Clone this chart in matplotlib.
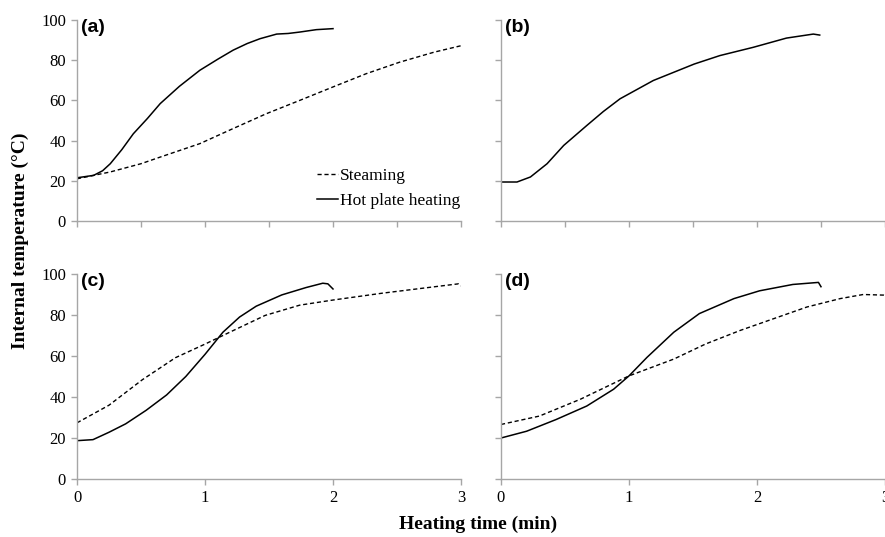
import matplotlib.pyplot as plt

# panel (a)
a_hot_t = [0, 0.13, 0.2, 0.26, 0.35, 0.44, 0.55, 0.65, 0.8, 0.96, 1.1, 1.22, 1.33, 1.43, 1.56, 1.65, 1.74, 1.87, 2.0]
a_hot_T = [21.5, 22.7, 25, 28.5, 35.5, 43.4, 51, 58.4, 67, 75, 80.5, 85, 88.3, 90.7, 93.0, 93.3, 94, 95.2, 95.7]
a_steam_t = [0, 0.26, 0.5, 0.65, 0.96, 1.22, 1.48, 1.74, 2.0, 2.26, 2.52, 2.79, 3.0]
a_steam_T = [21, 24.4, 28.5, 31.8, 38.5, 46, 53.4, 60, 66.7, 73.3, 79, 84, 87.2]

# panel (b)
b_hot_t = [0, 0.125, 0.23, 0.36, 0.49, 0.67, 0.8, 0.93, 1.19, 1.51, 1.71, 1.97, 2.23, 2.44, 2.49]
b_hot_T = [19.4, 19.4, 21.9, 28.5, 37.6, 47.5, 54.5, 60.8, 69.9, 78.1, 82.3, 86.4, 91.0, 93, 92.5]

# panel (c)
c_hot_t = [0, 0.125, 0.25, 0.38, 0.54, 0.7, 0.85, 1.0, 1.14, 1.27, 1.4, 1.6, 1.79, 1.92, 1.96, 2.0]
c_hot_T = [18.7, 19.2, 22.8, 26.9, 33.5, 41, 50, 60.8, 71.6, 79, 84.3, 89.8, 93.4, 95.5, 95.2, 92.7]
c_steam_t = [0, 0.25, 0.51, 0.77, 1.0, 1.22, 1.47, 1.74, 2.0, 2.38, 2.77, 2.98, 3.0]
c_steam_T = [27.4, 36, 48.4, 59.2, 65.8, 72.4, 79.8, 84.8, 87.3, 90.6, 93.6, 95.2, 94.2]

# panel (d)
d_hot_t = [0, 0.2, 0.43, 0.67, 0.88, 1.0, 1.14, 1.35, 1.55, 1.82, 2.02, 2.28, 2.48, 2.5]
d_hot_T = [20, 23.3, 29, 35.6, 43.8, 50.3, 59.3, 71.6, 80.7, 88, 91.8, 94.9, 95.9, 93.8]
d_steam_t = [0, 0.3, 0.62, 1.0, 1.35, 1.6, 1.87, 2.13, 2.39, 2.65, 2.83, 2.99, 3.0]
d_steam_T = [26.6, 30.7, 38.9, 50.3, 58.5, 65.9, 72.5, 78.2, 83.9, 88, 90, 89.7, 89.5]

W, H = 885, 537
fig = plt.figure(figsize=(W / 100, H / 100), dpi=100)
serif = 'Liberation Serif'
grey = '#a6a6a6'


def make_axes(x0, x1, ybot, ytop):
    return fig.add_axes([x0 / W, 1 - ybot / H, (x1 - x0) / W, (ybot - ytop) / H])


def style(ax, label, left, bottom):
    ax.set_xlim(0, 3)
    ax.set_ylim(0, 100)
    for s in ['top', 'right']:
        ax.spines[s].set_visible(False)
    for s in ['left', 'bottom']:
        ax.spines[s].set_color(grey)
        ax.spines[s].set_linewidth(1.0)
    ax.set_yticks(range(0, 101, 20))
    if bottom:
        ax.set_xticks([0, 1, 2, 3])
    else:
        ax.set_xticks([0, 0.5, 1, 1.5, 2, 2.5, 3])
    ax.tick_params(direction='out', length=4, color=grey, width=1,
                   labelsize=12, pad=4, labelleft=left, labelbottom=bottom)
    for t in ax.get_xticklabels() + ax.get_yticklabels():
        t.set_fontfamily(serif)
    ax.text(0.01, 1.005, label, transform=ax.transAxes, ha='left', va='top',
            fontsize=14, fontweight='bold', family='Liberation Sans')


ax_a = make_axes(77, 461, 221, 20)
ax_b = make_axes(501, 885, 221, 20)
ax_c = make_axes(77, 461, 479, 274)
ax_d = make_axes(501, 885, 479, 274)

dash = (0, (3, 2))
ax_a.plot(a_steam_t, a_steam_T, color='black', lw=1.0, ls=dash, label='Steaming')
ax_a.plot(a_hot_t, a_hot_T, color='black', lw=1.1, label='Hot plate heating')
ax_b.plot(b_hot_t, b_hot_T, color='black', lw=1.1)
ax_c.plot(c_steam_t, c_steam_T, color='black', lw=1.0, ls=dash)
ax_c.plot(c_hot_t, c_hot_T, color='black', lw=1.1)
ax_d.plot(d_steam_t, d_steam_T, color='black', lw=1.0, ls=dash)
ax_d.plot(d_hot_t, d_hot_T, color='black', lw=1.1)

style(ax_a, '(a)', True, False)
style(ax_b, '(b)', False, False)
style(ax_c, '(c)', True, True)
style(ax_d, '(d)', False, True)

ax_a.legend(loc='upper left', bbox_to_anchor=(0.625, 0.262), frameon=False,
            borderpad=0, borderaxespad=0, handlelength=1.2, handletextpad=0.1,
            labelspacing=0.48, prop={'family': serif, 'size': 12.5})

fig.text(20 / W, 1 - 241 / H, 'Internal temperature (\u00b0C)', rotation=90,
         ha='center', va='center', family=serif, fontweight='bold', fontsize=14)
fig.text(478 / W, 1 - 524 / H, 'Heating time (min)', ha='center', va='center',
         family=serif, fontweight='bold', fontsize=14)

fig.savefig('out.png', dpi=100)
